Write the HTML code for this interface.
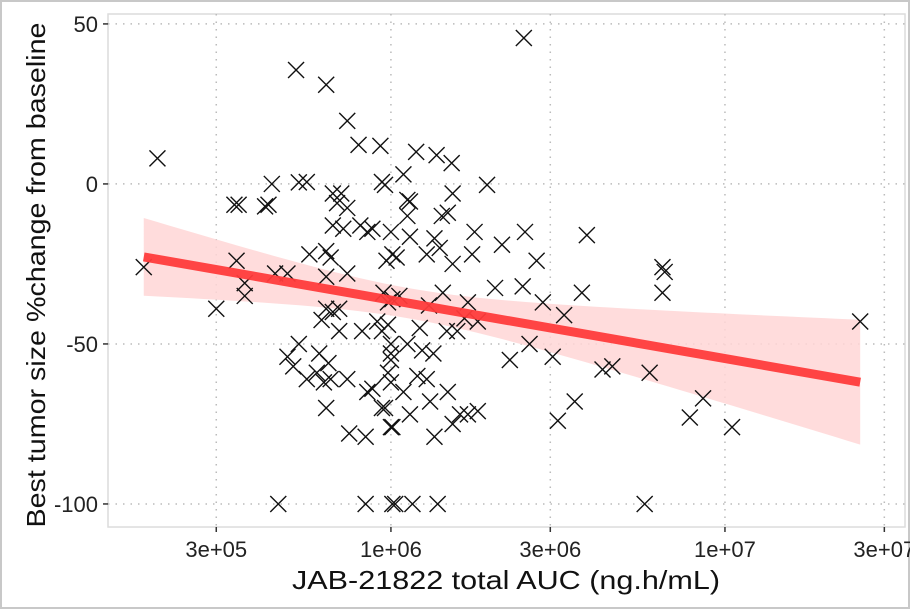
<!DOCTYPE html>
<html><head><meta charset="utf-8"><style>
body{margin:0;background:#fff;font-family:"Liberation Sans",sans-serif}
svg text{font-family:"Liberation Sans",sans-serif}
</style></head><body>
<svg id="c" width="910" height="609" xmlns="http://www.w3.org/2000/svg">
<rect x="1" y="1" width="908" height="607" fill="#fff" stroke="#c8c8c8" stroke-width="2"/>
<g id="grid"></g>
<g id="band"></g>
<g id="pts"></g>
<g id="axes"></g>
<text x="292" y="589" textLength="428" lengthAdjust="spacingAndGlyphs" font-size="26" fill="#111">JAB-21822 total AUC (ng.h/mL)</text>
<text transform="translate(45,275) rotate(-90)" text-anchor="middle" textLength="505" lengthAdjust="spacingAndGlyphs" font-size="26" fill="#111">Best tumor size %change from baseline</text>
</svg>
<script>
const auc=[1.82e5,2.0e5,3.0e5,3.45e5,3.65e5,3.65e5,3.4e5,3.5e5,5.2e5,6.4e5,7.4e5,8.0e5,9.3e5,4.4e5,5.3e5,5.6e5,9.4e5,9.6e5,4.2e5,4.3e5,6.7e5,7.1e5,6.9e5,7.4e5,6.7e5,7.2e5,8.1e5,8.5e5,8.8e5,1.0e6,5.7e5,6.4e5,6.6e5,9.7e5,1.01e6,
4.5e5,4.9e5,6.4e5,7.4e5,6.4e5,6.7e5,7.0e5,6.2e5,7.0e5,8.2e5,9.1e5,9.4e5,9.5e5,1.01e6,5.3e5,4.9e5,5.1e5,5.6e5,6.1e5,6.5e5,6.0e5,6.3e5,6.6e5,7.4e5,8.5e5,8.8e5,9.4e5,6.4e5,7.5e5,8.4e5,1.01e6,1.0e6,9.8e5,4.6e5,8.4e5,1.01e6,
2.5e6,1.19e6,1.37e6,1.52e6,1.09e6,1.94e6,1.53e6,1.12e6,1.14e6,1.12e6,1.42e6,1.48e6,1.78e6,2.52e6,3.86e6,2.15e6,1.75e6,2.73e6,1.14e6,1.35e6,1.04e6,1.28e6,1.4e6,1.53e6,6.5e6,
6.6e6,6.5e6,2.05e6,2.48e6,3.73e6,2.85e6,3.3e6,1.7e6,1.3e6,1.43e6,1.06e6,9.8e5,9.8e5,1.22e6,1.47e6,1.58e6,1.66e6,1.82e6,2.6e6,2.27e6,3.05e6,4.3e6,4.6e6,5.95e6,3.55e6,3.16e6,
1.0e6,1.12e6,1.0e6,1.24e6,1.34e6,1.2e6,1.28e6,1.0e6,1.09e6,1.48e6,9.6e5,1.31e6,1.14e6,1.61e6,1.70e6,1.82e6,1.53e6,1.0e6,1.35e6,1.03e6,1.16e6,1.38e6,5.75e6,7.85e6,8.6e6,1.05e7,2.54e7];
const change=[-26,8,-39,-24,-31,-35,-6.5,-6.5,35.6,31,19.7,12.2,11.9,0,0.5,0.6,0.6,-0.3,-7,-6.5,-3,-3,-6,-7.5,-13,-14,-13,-15,-14,-15,-22,-21,-23,-24,-22,
-28,-28,-29,-28,-39,-40,-39,-42.5,-46,-46,-43,-46,-34,-36,-50,-54,-57,-61,-53,-56,-59,-62,-61,-61,-65,-64,-70,-70,-78,-79,-76,-53,-59,-100,-100,-100,
45.6,10,9,6.5,3,-0.3,-3,-5,-5.5,-10,-10,-9,-15,-15,-16,-19,-22,-24,-16.5,-17,-23,-22,-20,-25,-26,
-27.5,-34,-32.5,-32,-34,-37,-41,-37,-38,-34,-35,-37,-44,-45,-46,-46,-42,-43,-50,-55,-54,-58,-57,-59,-68,-74,
-50,-50,-55,-52,-53,-60,-61,-62,-65,-65,-70,-68,-72,-72,-72,-71,-75,-76,-79,-100,-100,-100,-100,-73,-67,-76,-43];
const xTickVals=[3e5,1e6,3e6,1e7,3e7];
const xTickLabels=["3e+05","1e+06","3e+06","1e+07","3e+07"];
const yTickVals=[50,0,-50,-100];
const yTickLabels=["50","0","-50","-100"];
const NS="http://www.w3.org/2000/svg";
const L=108,R=905,T=14,B=527;
const lxMin=5.153,lxMax=7.539,yMax=53.1,yMin=-107.2;
const sx=v=>L+(Math.log10(v)-lxMin)/(lxMax-lxMin)*(R-L);
const sy=v=>T+(yMax-v)/(yMax-yMin)*(B-T);
function mk(tag,at,parent){const e=document.createElementNS(NS,tag);for(const k in at)e.setAttribute(k,at[k]);parent.appendChild(e);return e;}
const grid=document.getElementById('grid'),axes=document.getElementById('axes');
const panel=mk('rect',{x:L,y:T,width:R-L,height:B-T,fill:'#fff',stroke:'#dcdcdc','stroke-width':1.5},grid);


xTickVals.forEach((v,i)=>{const x=sx(v);
 const g=mk('line',{x1:x,x2:x,y1:T,y2:B,stroke:'#bbb','stroke-width':1.5,'stroke-dasharray':'1.5 6'},grid);
 
 
 const t=mk('line',{x1:x,x2:x,y1:B,y2:B+5,stroke:'#333','stroke-width':1.5},axes);
 
 
 const tx=mk('text',{x:x,y:557,'text-anchor':'middle','font-size':22,fill:'#222'},axes);tx.textContent=xTickLabels[i];
 
 });
yTickVals.forEach((v,i)=>{const y=sy(v);
 const g=mk('line',{x1:L,x2:R,y1:y,y2:y,stroke:'#bbb','stroke-width':1.5,'stroke-dasharray':'1.5 6'},grid);
 
 
 const t=mk('line',{x1:L-5,x2:L,y1:y,y2:y,stroke:'#333','stroke-width':1.5},axes);
 
 
 const tx=mk('text',{x:L-10,y:y+8,'text-anchor':'end','font-size':22,fill:'#222'},axes);tx.textContent=yTickLabels[i];
 
 });
const n=auc.length,lx=auc.map(v=>Math.log10(v));
const mx=lx.reduce((a,b)=>a+b)/n,my=change.reduce((a,b)=>a+b)/n;
let sxx=0,sxy=0;for(let i=0;i<n;i++){sxx+=(lx[i]-mx)**2;sxy+=(lx[i]-mx)*(change[i]-my);}
const b1=sxy/sxx,b0=my-b1*mx;
let sse=0;for(let i=0;i<n;i++)sse+=(change[i]-b0-b1*lx[i])**2;
const s=Math.sqrt(sse/(n-2));
const x0=Math.min(...lx),x1=Math.max(...lx);
const up=[],lo=[];
for(let k=0;k<=60;k++){const l=x0+(x1-x0)*k/60;const f=b0+b1*l;const se=1.97*s*Math.sqrt(1/n+(l-mx)**2/sxx);
 const px=L+(l-lxMin)/(lxMax-lxMin)*(R-L);up.push(px+','+sy(f+se));lo.unshift(px+','+sy(f-se));}
const band=document.getElementById('band');
const poly=mk('polygon',{points:up.concat(lo).join(' '),fill:'#ffd6d6','fill-opacity':0.85},band);


const pts=document.getElementById('pts');
for(let i=0;i<n;i++){const x=sx(auc[i]),y=sy(change[i]),r=8;
 const p=mk('path',{d:`M${x-r},${y-r}L${x+r},${y+r}M${x-r},${y+r}L${x+r},${y-r}`,stroke:'#111','stroke-width':1.4,fill:'none'},pts);
 
 }
const pxa=L+(x0-lxMin)/(lxMax-lxMin)*(R-L),pxb=L+(x1-lxMin)/(lxMax-lxMin)*(R-L);
const fl=mk('line',{x1:pxa,y1:sy(b0+b1*x0),x2:pxb,y2:sy(b0+b1*x1),stroke:'#ff3b3b','stroke-width':9,'stroke-opacity':0.95},pts);


</script>
</body></html>
